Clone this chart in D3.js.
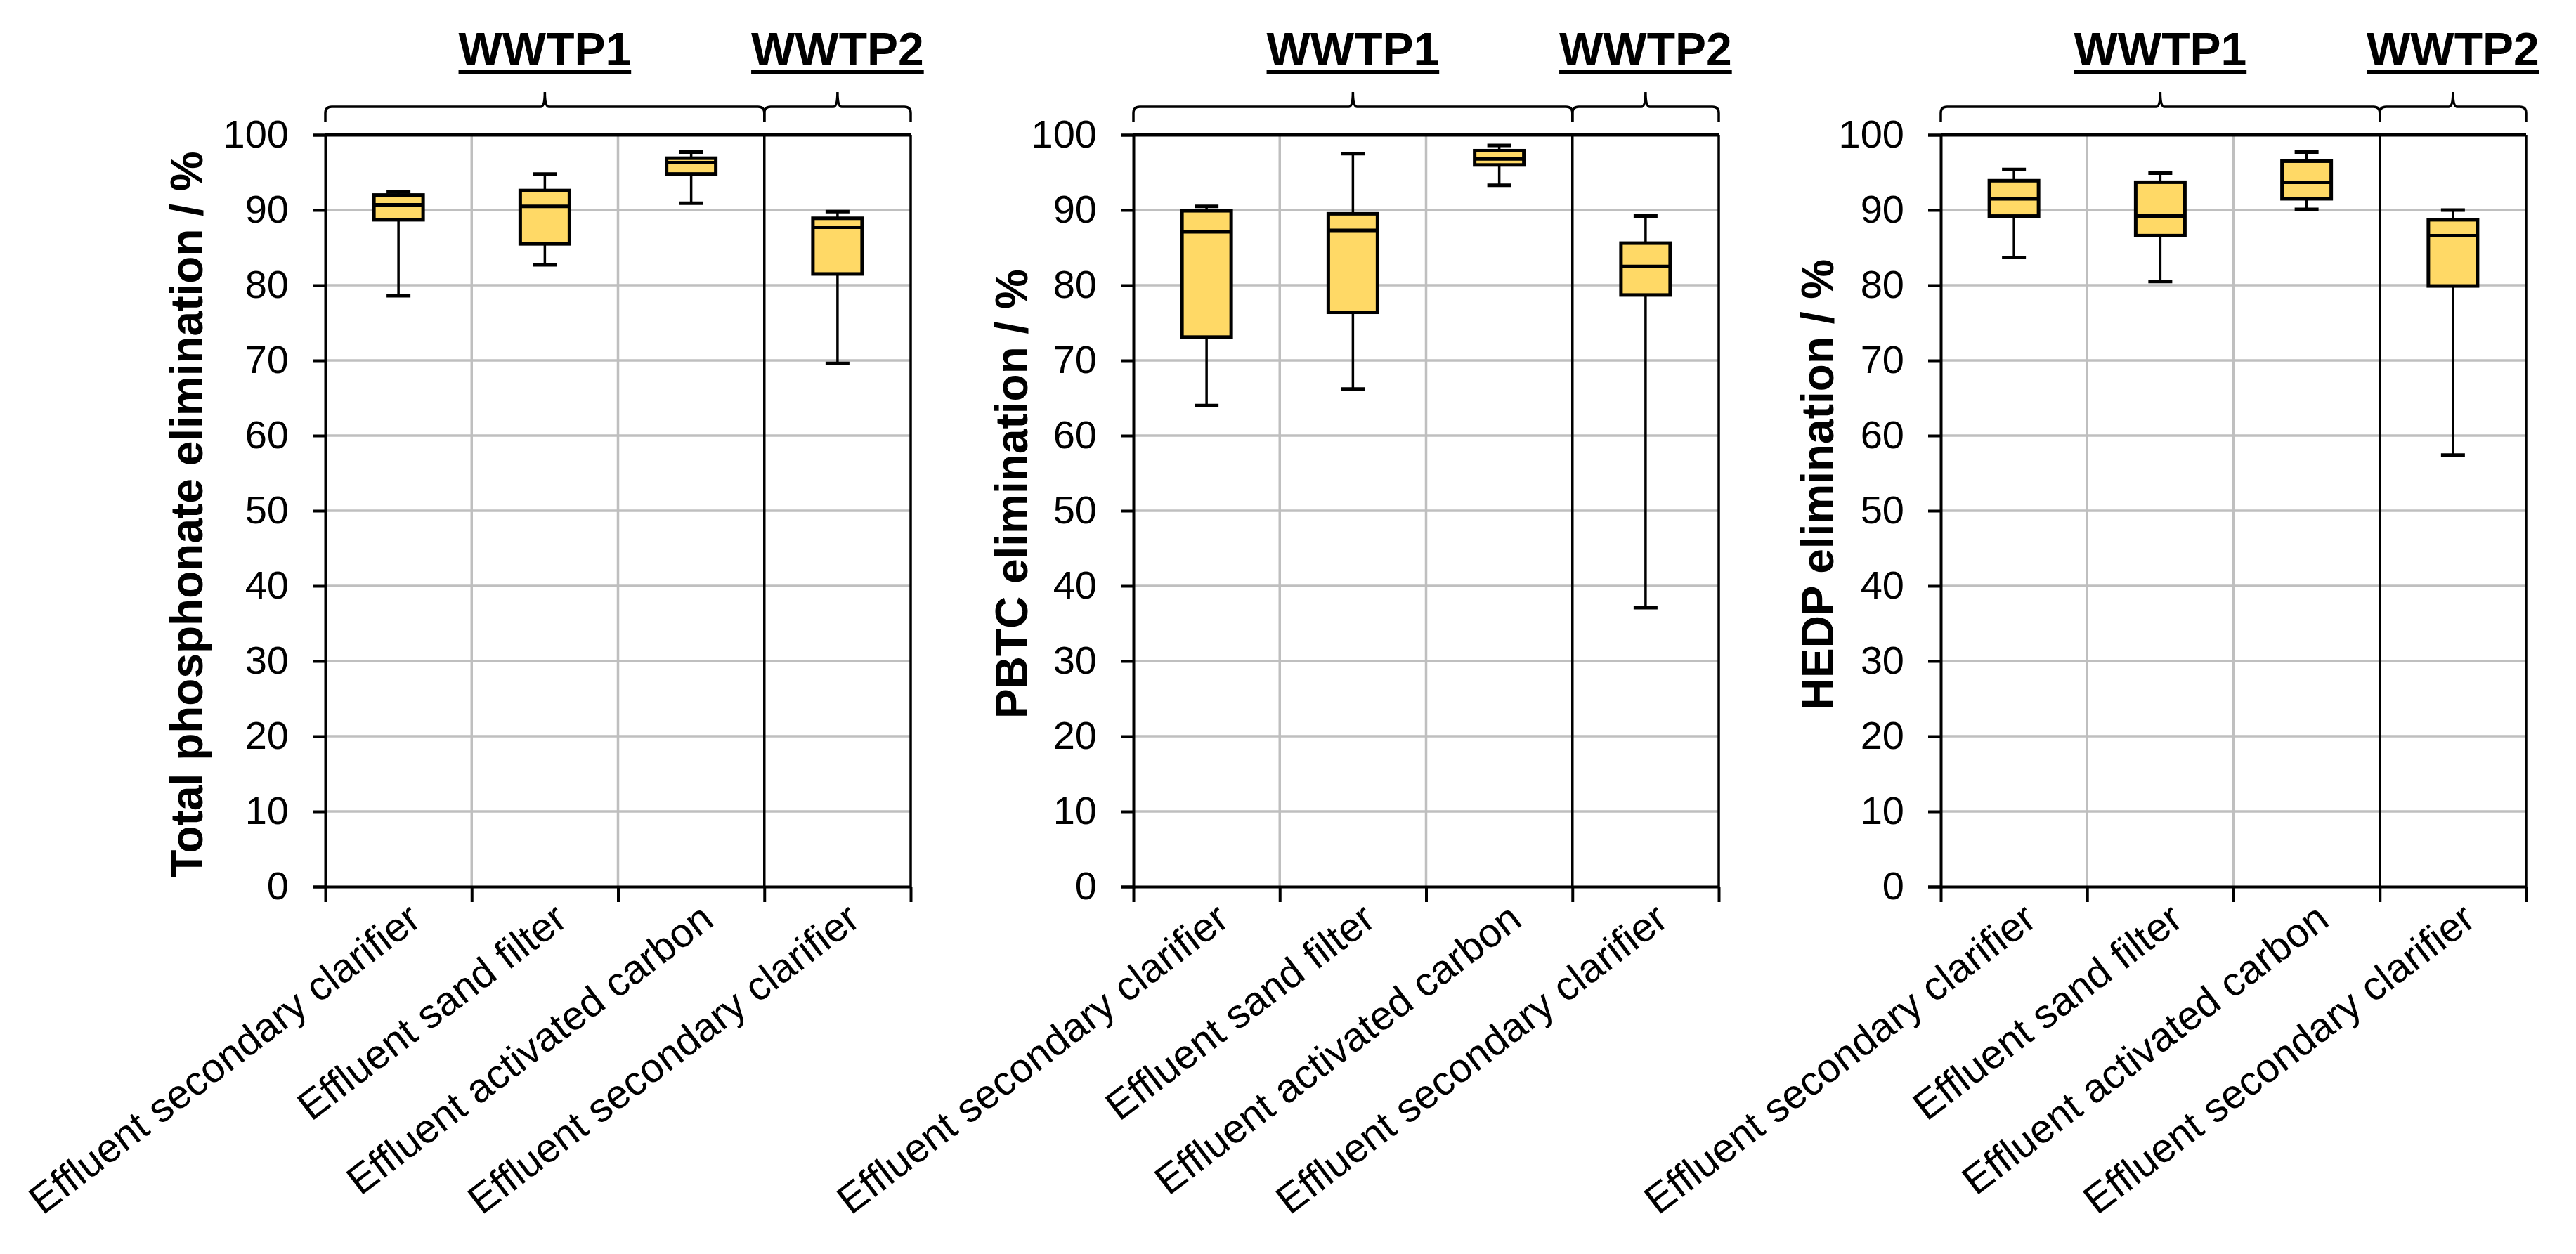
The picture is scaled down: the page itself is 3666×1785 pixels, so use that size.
<!DOCTYPE html>
<html>
<head>
<meta charset="utf-8">
<script src="https://cdn.jsdelivr.net/npm/d3@7"></script>
<style>
  body { margin: 0; background: #fff; }
  text { font-family: "Liberation Sans", Arial, sans-serif; fill: #000; }
</style>
</head>
<body>
<svg id="chart"></svg>
<script>
// categories along the x axis (same for every panel)
const categories = [
  "Effluent secondary clarifier",
  "Effluent sand filter",
  "Effluent activated carbon",
  "Effluent secondary clarifier"
];
// plant groups: name and [first, last) category index
const groupNames = ["WWTP1", "WWTP2"];
const groupSpans = [[0, 3], [3, 4]];

const yTicks = [0, 10, 20, 30, 40, 50, 60, 70, 80, 90, 100];

const panelTitles = [
  "Total phosphonate elimination / %",
  "PBTC elimination / %",
  "HEDP elimination / %"
];

// box stats per category: [min, q1, median, q3, max]
const totalStats = [
  [78.6, 88.7, 90.7, 92.0, 92.4],
  [82.7, 85.5, 90.5, 92.6, 94.8],
  [90.9, 94.8, 96.3, 96.9, 97.7],
  [69.6, 81.5, 87.7, 88.9, 89.8]
];
const pbtcStats = [
  [64.0, 73.1, 87.1, 89.9, 90.5],
  [66.2, 76.4, 87.3, 89.5, 97.5],
  [93.3, 96.0, 96.8, 97.9, 98.6],
  [37.1, 78.7, 82.5, 85.6, 89.2]
];
const hedpStats = [
  [83.7, 89.2, 91.5, 93.9, 95.4],
  [80.5, 86.6, 89.2, 93.7, 94.9],
  [90.1, 91.5, 93.7, 96.5, 97.7],
  [57.4, 79.9, 86.6, 88.7, 90.0]
];

const allStats = [totalStats, pbtcStats, hedpStats];

// layout
const W = 3666, H = 1785;
const panelLeft = [463, 1613, 2762];
const plotW = 833;
const plotTop = 192, plotBottom = 1262;
const titleX = [288, 1462, 2609];
const titleY = [732, 703, 690];

const svg = d3.select("#chart").attr("width", W).attr("height", H);
svg.append("rect").attr("width", W).attr("height", H).attr("fill", "#fff");

const y = d3.scaleLinear().domain([0, 100]).range([plotBottom, plotTop]);

allStats.forEach((stats, p) => {
  const left = panelLeft[p];
  const x = d3.scaleLinear().domain([0, categories.length]).range([left, left + plotW]);
  const g = svg.append("g");

  // horizontal gridlines
  g.selectAll(".hgrid")
    .data(yTicks.filter((t) => t > 0 && t < 100))
    .enter()
    .append("line")
    .attr("x1", x(0)).attr("x2", x(4))
    .attr("y1", (d) => y(d)).attr("y2", (d) => y(d))
    .attr("stroke", "#bfbfbf").attr("stroke-width", 3.5);

  // vertical lines at category boundaries
  const groupEdges = groupSpans.map((s) => s[0]);
  g.selectAll(".vgrid")
    .data([1, 2, 3, 4])
    .enter()
    .append("line")
    .attr("x1", (d) => x(d)).attr("x2", (d) => x(d))
    .attr("y1", y(0)).attr("y2", y(100))
    .attr("stroke", (d) => (groupEdges.includes(d) || d === 4 ? "#000" : "#bfbfbf"))
    .attr("stroke-width", 3.5);

  // top border
  g.append("line")
    .attr("x1", x(0)).attr("x2", x(4))
    .attr("y1", y(100)).attr("y2", y(100))
    .attr("stroke", "#000").attr("stroke-width", 5);

  // boxes
  const bw = 70, cw = 34;
  const cx = (i) => (x(i) + x(i + 1)) / 2;
  const box = g.selectAll(".box").data(stats).enter().append("g");

  box.append("line")
    .attr("x1", (d, i) => cx(i)).attr("x2", (d, i) => cx(i))
    .attr("y1", (d) => y(d[4])).attr("y2", (d) => y(d[3]))
    .attr("stroke", "#000").attr("stroke-width", 3.5);
  box.append("line")
    .attr("x1", (d, i) => cx(i)).attr("x2", (d, i) => cx(i))
    .attr("y1", (d) => y(d[1])).attr("y2", (d) => y(d[0]))
    .attr("stroke", "#000").attr("stroke-width", 3.5);
  [0, 4].forEach((k) => {
    box.append("line")
      .attr("x1", (d, i) => cx(i) - cw / 2).attr("x2", (d, i) => cx(i) + cw / 2)
      .attr("y1", (d) => y(d[k])).attr("y2", (d) => y(d[k]))
      .attr("stroke", "#000").attr("stroke-width", 5);
  });
  box.append("rect")
    .attr("x", (d, i) => cx(i) - bw / 2)
    .attr("width", bw)
    .attr("y", (d) => y(d[3]))
    .attr("height", (d) => y(d[1]) - y(d[3]))
    .attr("fill", "#ffd966")
    .attr("stroke", "#000").attr("stroke-width", 5);
  box.append("line")
    .attr("x1", (d, i) => cx(i) - bw / 2).attr("x2", (d, i) => cx(i) + bw / 2)
    .attr("y1", (d) => y(d[2])).attr("y2", (d) => y(d[2]))
    .attr("stroke", "#000").attr("stroke-width", 5);

  // y axis
  const ya = g.append("g")
    .attr("transform", "translate(" + left + ",0)")
    .call(d3.axisLeft(y).tickValues(yTicks).tickSize(18).tickPadding(34));
  ya.select(".domain").attr("stroke-width", 4);
  ya.selectAll(".tick line").attr("stroke-width", 4);
  ya.selectAll(".tick text")
    .attr("font-size", 56)
    .attr("font-family", '"Liberation Sans", Arial, sans-serif');

  // x axis with ticks at category boundaries
  const xa = g.append("g")
    .attr("transform", "translate(0," + plotBottom + ")")
    .call(d3.axisBottom(x).tickValues([0, 1, 2, 3, 4]).tickFormat("").tickSize(22).tickSizeOuter(0));
  xa.select(".domain").attr("stroke-width", 4);
  xa.selectAll(".tick line").attr("stroke-width", 4);

  // rotated category labels
  g.selectAll(".xlab")
    .data(categories)
    .enter()
    .append("text")
    .attr("transform", (d, i) => "translate(" + (cx(i) + 35) + "," + (plotBottom + 53) + ") rotate(-37.5)")
    .attr("text-anchor", "end")
    .attr("font-size", 58)
    .text((d) => d);

  // y title
  g.append("text")
    .attr("transform", "translate(" + titleX[p] + "," + titleY[p] + ") rotate(-90)")
    .attr("text-anchor", "middle")
    .attr("font-size", 64)
    .attr("font-weight", "bold")
    .text(panelTitles[p]);

  // group brackets and labels
  groupSpans.forEach((s, k) => {
    const x0 = x(s[0]), x1 = x(s[1]), xm = (x0 + x1) / 2;
    const yb = 152, ye = 173, yt = 131;
    const path =
      "M" + x0 + "," + ye + " L" + x0 + "," + (yb + 9) +
      " Q" + x0 + "," + yb + " " + (x0 + 9) + "," + yb +
      " L" + (xm - 6) + "," + yb +
      " Q" + xm + "," + yb + " " + xm + "," + yt +
      " Q" + xm + "," + yb + " " + (xm + 6) + "," + yb +
      " L" + (x1 - 9) + "," + yb +
      " Q" + x1 + "," + yb + " " + x1 + "," + (yb + 9) +
      " L" + x1 + "," + ye;
    g.append("path")
      .attr("d", path)
      .attr("fill", "none")
      .attr("stroke", "#000")
      .attr("stroke-width", 3.5);

    const lab = g.append("text")
      .attr("x", xm).attr("y", 93)
      .attr("text-anchor", "middle")
      .attr("font-size", 66)
      .attr("font-weight", "bold")
      .text(groupNames[k]);
    const tw = lab.node().getComputedTextLength();
    g.append("rect")
      .attr("x", xm - tw / 2).attr("y", 99)
      .attr("width", tw).attr("height", 7)
      .attr("fill", "#000");
  });
});
</script>
</body>
</html>
